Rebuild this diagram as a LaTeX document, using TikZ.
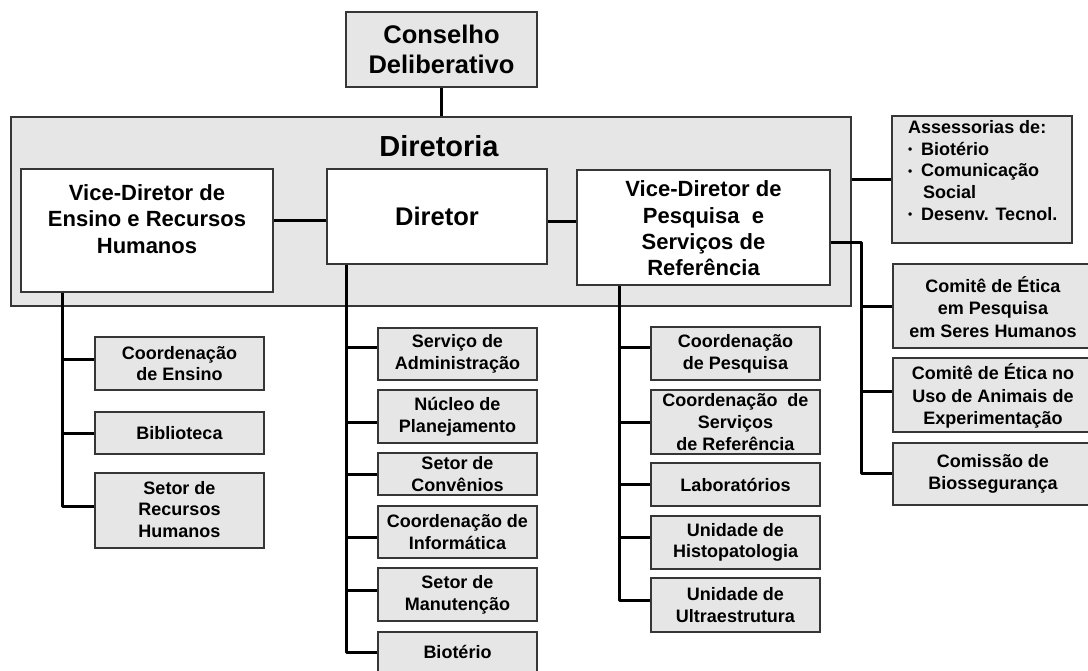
\documentclass[tikz,border=0pt]{standalone}
\usepackage{fontspec}
\setmainfont{Liberation Sans}
\definecolor{boxfill}{HTML}{E6E6E6}
\definecolor{boxline}{HTML}{363636}
% box: style, name, x1, y1, x2, y2 (pixel-like units, y grows downwards)
\newcommand\orgbox[6][gbox]{%
  \node[#1, minimum width={#5-#3}, minimum height={#6-#4}] (#2) at ({(#3+#5)/2},{(#4+#6)/2}) {};}
% text centred in a box
\newcommand\boxtext[2]{\node[txt] (#1-t) at (#1) {#2};}
% branch from a trunk to a box, with a vertical offset of the joint
\newcommand\branchpt[2]{\coordinate (#1-j) at ([yshift=#2pt]#1.west);}
\newcommand\branch[2]{\draw[wire] (#1-j) -- (#1-j -| #2);}
% small list bullet
\newcommand\lbul{\makebox[13pt][l]{\raisebox{1.5pt}{\fontsize{12}{12}\selectfont •}}}
\begin{document}
\begin{tikzpicture}[x=1pt,y=-1pt,
  gbox/.style={draw=boxline, line width=1.8pt, fill=boxfill, inner sep=0pt},
  wbox/.style={gbox, fill=white},
  txt/.style={align=center, inner sep=0pt, text=black,
    font=\bfseries\fontsize{18}{21.7}\selectfont},
  vtxt/.style={txt, font=\bfseries\fontsize{22}{26.3}\selectfont},
  wire/.style={line width=3pt, draw=black, line join=round}]
\useasboundingbox (0,0) rectangle (1088,671);
\clip (0,0) rectangle (1088,671);

% top level
\orgbox{cons}{346}{12}{537}{87}
\node[txt, font=\bfseries\fontsize{25.5}{30}\selectfont] (cons-t) at (cons) {Conselho\\Deliberativo};
\orgbox{diretoria}{11}{117}{851}{306}
\node[txt, font=\bfseries\fontsize{29}{34}\selectfont] (diretoria-t) at (439,146) {Diretoria};

\orgbox[wbox]{vde}{21}{169}{273}{292}
\node[vtxt] (vde-t) at (147,219) {Vice-Diretor de\\Ensino e Recursos\\Humanos};
\orgbox[wbox]{dtor}{327}{169}{547}{264}
\node[txt, font=\bfseries\fontsize{25.5}{30}\selectfont] (dtor-t) at (dtor) {Diretor};
\orgbox[wbox]{vdp}{577}{170}{830}{285}
\node[vtxt] (vdp-t) at ([yshift=-1pt]vdp.center) {Vice-Diretor de\\Pesquisa\ \ e\\Serviços de\\Referência};

% advisory board
\orgbox{ass}{892}{116}{1072}{243}
\node[txt, align=left, anchor=north west, font=\bfseries\fontsize{18}{21.8}\selectfont] (ass-t) at (908,120)
  {Assessorias de:\\
   \lbul Biotério\\
   \lbul Comunicação\\
   \hspace*{15pt}Social\\
   \lbul Desenv. Tecnol.};

% committees
\orgbox{cep}{893}{264}{1093}{348}
\node[txt, font=\bfseries\fontsize{18}{22.5}\selectfont] (cep-t) at ([yshift=-1pt]cep.center) {Comitê de Ética\\em Pesquisa\\em Seres Humanos};
\orgbox{ceua}{893}{358}{1093}{432}
\node[txt, font=\bfseries\fontsize{18}{22.5}\selectfont] (ceua-t) at ([yshift=-1pt]ceua.center) {Comitê de Ética no\\Uso de Animais de\\Experimentação};
\orgbox{cbs}{893}{443}{1093}{505}
\node[txt, font=\bfseries\fontsize{18}{22.5}\selectfont] (cbs-t) at (cbs) {Comissão de\\Biossegurança};

% teaching column
\orgbox{ce}{95}{337}{264}{390}   \boxtext{ce}{Coordenação\\de Ensino}
\orgbox{bib}{95}{412}{264}{454}  \boxtext{bib}{Biblioteca}
\orgbox{rh}{95}{473}{264}{548}   \node[txt] (rh-t) at ([yshift=1pt]rh.center) {Setor de\\Recursos\\Humanos};

% director column
\orgbox{sa}{378}{328}{537}{380}   \boxtext{sa}{Serviço de\\Administração}
\orgbox{np}{378}{390}{537}{443}   \boxtext{np}{Núcleo de\\Planejamento}
\orgbox{sc}{378}{453}{537}{495}   \boxtext{sc}{Setor de\\Convênios}
\orgbox{ci}{378}{506}{537}{558}   \boxtext{ci}{Coordenação de\\Informática}
\orgbox{sm}{378}{568}{537}{621}   \boxtext{sm}{Setor de\\Manutenção}
\orgbox{bt}{378}{632}{537}{684}
\node[txt] (bt-t) at (457.5,652) {Biotério};

% research column
\orgbox{cp}{651}{327}{820}{380}   \boxtext{cp}{Coordenação\\de Pesquisa}
\orgbox{csr}{651}{390}{820}{454}  \boxtext{csr}{Coordenação\ \ de\\Serviços\\de Referência}
\orgbox{lab}{651}{463}{820}{506}  \boxtext{lab}{Laboratórios}
\orgbox{uh}{651}{516}{820}{569}   \boxtext{uh}{Unidade de\\Histopatologia}
\orgbox{uu}{651}{578}{820}{632}   \boxtext{uu}{Unidade de\\Ultraestrutura}

% connectors between the top boxes
\draw[wire] (cons.south) -- (cons.south |- diretoria.north);
\coordinate (j1) at ([yshift=-4.5pt]dtor.west);
\draw[wire] (j1) -- (j1 -| vde.east);
\coordinate (j2) at ([yshift=5.5pt]vdp.west);
\draw[wire] (j2) -- (j2 -| dtor.east);
\draw[wire] (ass.west) -- (ass.west -| diretoria.east);

% trunks
\coordinate (lt) at ([xshift=42pt]vde.south west);
\coordinate (mt) at ([xshift=20pt]dtor.south west);
\coordinate (pt) at ([xshift=43pt]vdp.south west);
\coordinate (j3) at ([yshift=-15.5pt]vdp.east);
\coordinate (rt) at ([xshift=31pt]j3);

\branchpt{ce}{4.5} \branchpt{bib}{0} \branchpt{rh}{4.5}
\branchpt{sa}{6} \branchpt{np}{-5.5} \branchpt{sc}{0} \branchpt{ci}{-5} \branchpt{sm}{4.5} \branchpt{bt}{6}
\branchpt{cp}{5.5} \branchpt{csr}{0} \branchpt{lab}{0.5} \branchpt{uh}{5.5} \branchpt{uu}{5}
\branchpt{cep}{-1} \branchpt{ceua}{4} \branchpt{cbs}{1}

\draw[wire] (lt) |- (rh-j);
\branch{ce}{lt} \branch{bib}{lt}

\draw[wire] (mt) |- (bt-j);
\branch{sa}{mt} \branch{np}{mt} \branch{sc}{mt} \branch{ci}{mt} \branch{sm}{mt}

\draw[wire] (pt) |- (uu-j);
\branch{cp}{pt} \branch{csr}{pt} \branch{lab}{pt} \branch{uh}{pt}

\draw[wire] (j3) -- (rt) |- (cbs-j);
\branch{cep}{rt} \branch{ceua}{rt}
\end{tikzpicture}
\end{document}
